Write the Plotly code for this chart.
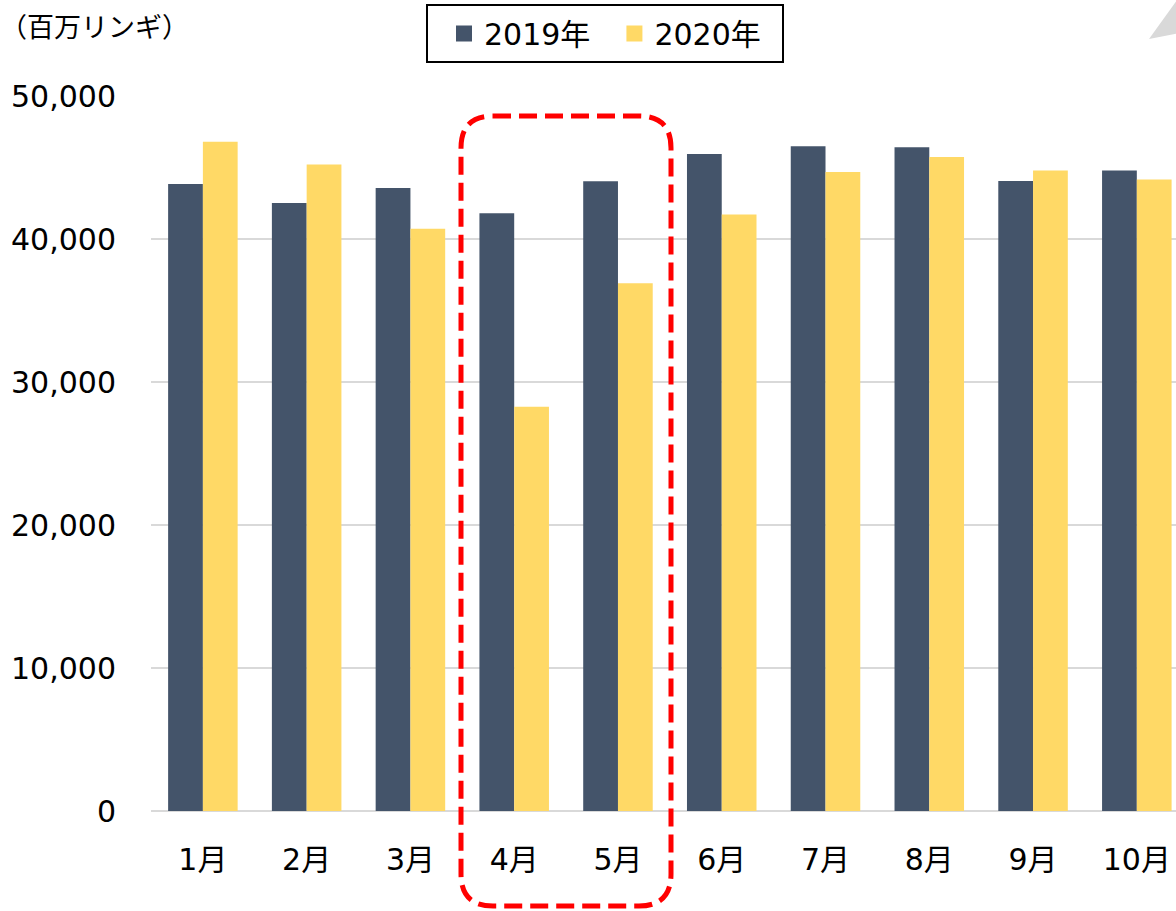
import plotly.graph_objects as go

months = ["1月", "2月", "3月", "4月", "5月", "6月", "7月", "8月", "9月", "10月"]
values_2019 = [43850, 42520, 43570, 41800, 44040, 45950, 46490, 46420, 44050, 44790]
values_2020 = [46800, 45210, 40710, 28270, 36900, 41710, 44690, 45740, 44790, 44160]
series_names = ["2019年", "2020年"]
y_ticks = [0, 10000, 20000, 30000, 40000, 50000]
y_unit = "（百万リンギ）"

C2019 = "#44546A"
C2020 = "#FFD966"
FONT = "DejaVu Sans, Noto Sans CJK JP, sans-serif"

W, H = 1176, 911
L, R, T, B = 151, 0, 96, 100
PW = W - L - R
PH = H - T - B


def px(x):
    return (x - L) / PW


def py(y):
    return (H - B - y) / PH


fig = go.Figure()
fig.add_trace(go.Bar(x=months, y=values_2019, name=series_names[0], marker=dict(color=C2019, line=dict(width=0)), showlegend=False))
fig.add_trace(go.Bar(x=months, y=values_2020, name=series_names[1], marker=dict(color=C2020, line=dict(width=0)), showlegend=False))
# legend proxies with larger square markers
pads = ["\u00a0\u00a0", ""]
for nm, c, p in zip(series_names, [C2019, C2020], pads):
    fig.add_trace(go.Scatter(x=[None], y=[None], mode="markers", name=nm + p,
                             marker=dict(symbol="square", size=19, color=c)))

# rounded dashed rectangle around Apr-May
x0, x1, y0, y1 = px(461), px(671), py(906), py(116)
rx, ry = 32 / PW, 32 / PH
path = (f"M {x0+rx},{y1} L {x1-rx},{y1} Q {x1},{y1} {x1},{y1-ry} "
        f"L {x1},{y0+ry} Q {x1},{y0} {x1-rx},{y0} L {x0+rx},{y0} "
        f"Q {x0},{y0} {x0},{y0+ry} L {x0},{y1-ry} Q {x0},{y1} {x0+rx},{y1} Z")
shapes = [
    dict(type="path", xref="paper", yref="paper", path=path,
         line=dict(color="#FF0000", width=5, dash="18px,8px"), layer="above"),
    dict(type="path", xref="paper", yref="paper",
         path=f"M {px(1149)},{py(39)} L {px(1180)},{py(-4)} L {px(1180)},{py(33)} Z",
         fillcolor="#D9D9D9", line=dict(width=0), layer="above"),
    dict(type="rect", xref="paper", yref="paper", x0=px(427), x1=px(783), y0=py(62), y1=py(5),
         line=dict(color="#000000", width=2), fillcolor="rgba(0,0,0,0)", layer="above"),
]

fig.update_layout(
    width=W, height=H,
    margin=dict(l=L, r=R, t=T, b=B, pad=0),
    paper_bgcolor="white", plot_bgcolor="white",
    font=dict(family=FONT, size=30, color="#000000"),
    barmode="group", bargap=0.33, bargroupgap=0,
    showlegend=True,
    legend=dict(orientation="h", x=px(605), xanchor="center", y=py(33.5), yanchor="middle",
                borderwidth=0, bgcolor="rgba(0,0,0,0)",
                font=dict(size=30, family=FONT), itemwidth=30, tracegroupgap=0),
    shapes=shapes,
    annotations=[dict(text=y_unit, xref="paper", yref="paper", x=px(-2), y=py(26),
                      xanchor="left", yanchor="middle", showarrow=False,
                      font=dict(size=27, family="Noto Sans CJK JP"))],
    xaxis=dict(range=[-0.5, 9.5 - 12.7 / 103.7], showgrid=False, showline=False,
               ticks="", ticklabelstandoff=28, tickfont=dict(size=30)),
    yaxis=dict(range=[0, 50000], tickvals=y_ticks, tickformat=",", showgrid=True,
               gridcolor="#D9D9D9", gridwidth=2, zeroline=True, zerolinecolor="#D9D9D9",
               zerolinewidth=2, showline=False, ticks="", ticklabelstandoff=34,
               tickfont=dict(size=30)),
)

fig.write_html("out.html")
